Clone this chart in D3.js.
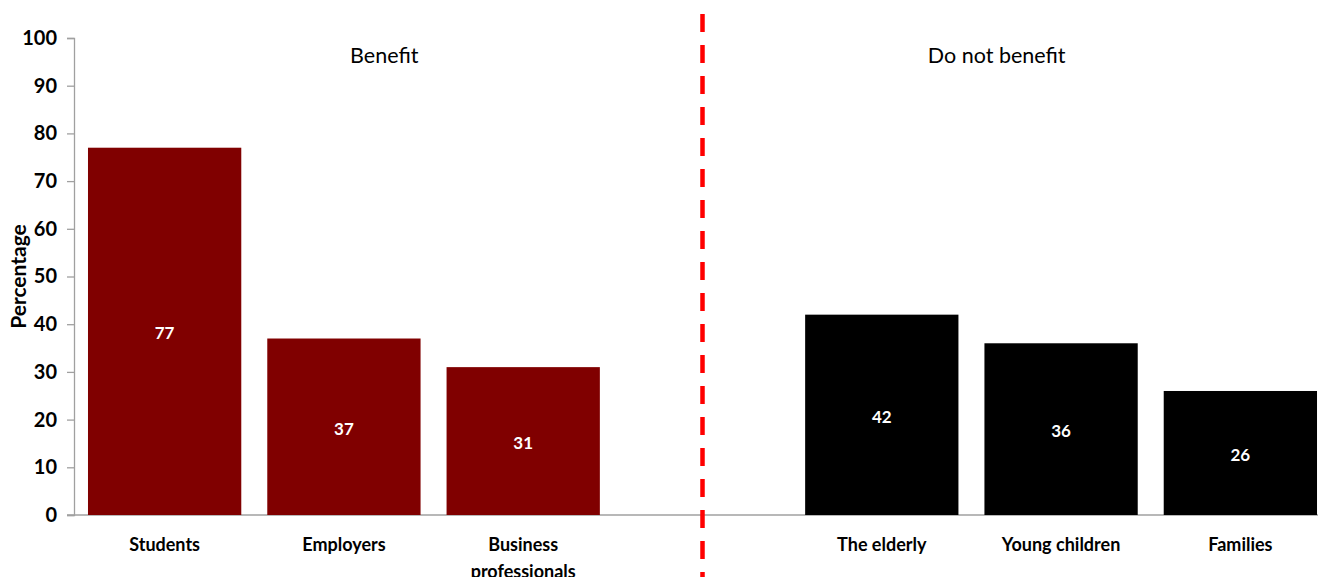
<!DOCTYPE html>
<html>
<head>
<meta charset="utf-8">
<script src="https://cdn.jsdelivr.net/npm/d3@7"></script>
<style>
  html, body { margin: 0; padding: 0; background: #fff; }
  svg { display: block; }
  text { font-family: Lato, "Open Sans", "Liberation Sans", sans-serif; }
</style>
</head>
<body>
<svg id="chart" width="1318" height="577"></svg>
<script>
// Groups who benefit and who do not benefit
const categories = ["Students", "Employers", "Business professionals", "", "The elderly", "Young children", "Families"];
const values = [77, 37, 31, null, 42, 36, 26];
const groups = ["benefit", "benefit", "benefit", null, "notbenefit", "notbenefit", "notbenefit"];
const groupLabels = ["Benefit", "Do not benefit"];
const yTicks = [0, 10, 20, 30, 40, 50, 60, 70, 80, 90, 100];

const svg = d3.select("#chart");
const margin = { left: 74, top: 38, bottom: 515 };

const x = d3.scaleBand()
  .domain(categories.map((c, i) => i))
  .range([74, 1331])
  .paddingInner(0.145)
  .paddingOuter(0.078);

const y = d3.scaleLinear().domain([0, 100]).range([515, 38]);

const colors = { benefit: "#800000", notbenefit: "#000000" };

// Y axis
const yAxis = svg.append("g")
  .attr("transform", `translate(${margin.left},0)`)
  .call(d3.axisLeft(y).tickValues(yTicks).tickSize(7).tickPadding(10).tickFormat(d3.format("d")));
yAxis.select(".domain").attr("stroke", "#a0a0a0").attr("stroke-width", 1.3);
yAxis.selectAll(".tick line").attr("stroke", "#a0a0a0").attr("stroke-width", 1.3);
yAxis.selectAll(".tick text")
  .attr("font-size", 20).attr("font-weight", "bold").attr("fill", "#000")
  .attr("font-family", "Lato, 'Open Sans', sans-serif");

// Baseline
svg.append("line")
  .attr("x1", 67).attr("x2", 1318)
  .attr("y1", y(0)).attr("y2", y(0))
  .attr("stroke", "#a0a0a0").attr("stroke-width", 1.3);

// Y title
svg.append("text")
  .attr("transform", `translate(26,${(y(0) + y(100)) / 2}) rotate(-90)`)
  .attr("text-anchor", "middle")
  .attr("font-size", 21).attr("font-weight", "bold")
  .text("Percentage");

// Bars
const idx = d3.range(categories.length).filter(i => values[i] != null);
svg.append("g").selectAll("rect")
  .data(idx)
  .join("rect")
  .attr("x", i => x(i))
  .attr("width", x.bandwidth())
  .attr("y", i => y(values[i]))
  .attr("height", i => y(0) - y(values[i]))
  .attr("fill", i => colors[groups[i]]);

// Value labels
svg.append("g").selectAll("text")
  .data(idx)
  .join("text")
  .attr("x", i => x(i) + x.bandwidth() / 2)
  .attr("y", i => (y(values[i]) + y(0)) / 2 + 2)
  .attr("dy", "0.35em")
  .attr("text-anchor", "middle")
  .attr("fill", "#fff")
  .attr("font-size", 17).attr("font-weight", "bold")
  .text(i => values[i]);

// Category labels (wrapped)
const catG = svg.append("g");
idx.forEach(i => {
  const words = categories[i].split(" ");
  const lines = categories[i] === "Business professionals" ? words : [categories[i]];
  const t = catG.append("text")
    .attr("x", x(i) + x.bandwidth() / 2)
    .attr("y", 551)
    .attr("text-anchor", "middle")
    .attr("font-size", 18).attr("font-weight", "bold");
  lines.forEach((l, k) => {
    t.append("tspan")
      .attr("x", x(i) + x.bandwidth() / 2)
      .attr("dy", k === 0 ? 0 : 27)
      .text(l);
  });
});

// Divider between groups
const sep = x(3) + x.bandwidth() / 2;
svg.append("line")
  .attr("x1", sep).attr("x2", sep)
  .attr("y1", 14).attr("y2", 577)
  .attr("stroke", "#ff0000").attr("stroke-width", 4.5)
  .attr("stroke-dasharray", "18,13");

// Group titles
const benefitCenter = (margin.left + sep) / 2 - 4;
const notCenter = sep + (1318 - sep) * 0.478;
svg.append("text")
  .attr("x", benefitCenter).attr("y", 63)
  .attr("text-anchor", "middle").attr("font-size", 21.5)
  .text(groupLabels[0]);
svg.append("text")
  .attr("x", notCenter).attr("y", 63)
  .attr("text-anchor", "middle").attr("font-size", 21.5)
  .text(groupLabels[1]);
</script>
</body>
</html>
